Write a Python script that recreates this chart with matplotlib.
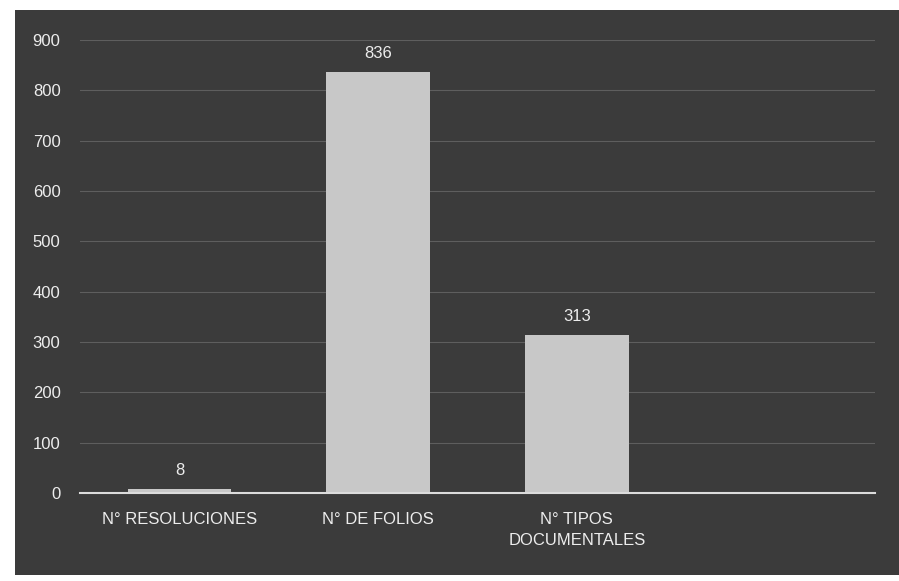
import matplotlib.pyplot as plt
from matplotlib.patches import Rectangle

# data
categories = ["N° RESOLUCIONES", "N° DE FOLIOS", "N° TIPOS\nDOCUMENTALES", ""]
values = [8, 836, 313, 0]
yticks = [0, 100, 200, 300, 400, 500, 600, 700, 800, 900]

bg = "#3b3b3b"
bar_color = "#c8c8c8"
text_color = "#ededed"

plt.rcParams['font.family'] = ['Liberation Sans', 'DejaVu Sans']

fig = plt.figure(figsize=(8.99, 5.81), dpi=100, facecolor="white")
# dark chart area inside the white paper margin
fig.patches.append(Rectangle((15 / 899, 0.01), 1, 1 - 10 / 581 - 0.01,
                             transform=fig.transFigure, facecolor=bg,
                             edgecolor="none", zorder=-10))

ax = fig.add_axes([80 / 899, 1 - 493 / 581, 795 / 899, 453 / 581])
ax.set_zorder(1)
ax.set_facecolor(bg)

x = range(len(categories))
bars = ax.bar(x, values, width=0.52, color=bar_color, zorder=3)

# value labels above the first three bars
for i in range(3):
    ax.annotate(str(values[i]), (i, values[i]), xytext=(0, 8),
                textcoords="offset points", ha="center", va="bottom",
                color=text_color, fontsize=12)

ax.set_xlim(-0.5, len(categories) - 0.5)
ax.set_ylim(0, 900)
ax.set_yticks(yticks)
ax.set_xticks(list(x))
ax.set_xticklabels(categories, color=text_color, fontsize=12,
                   linespacing=1.5)
ax.tick_params(axis="y", colors=text_color, labelsize=12, length=0, pad=14)
ax.tick_params(axis="x", length=0, pad=14)

ax.grid(axis="y", color="#5e5e5e", linewidth=0.8, zorder=1)
ax.set_axisbelow(True)
for side in ["top", "right", "left"]:
    ax.spines[side].set_visible(False)
ax.spines["bottom"].set_color("#dcdcdc")
ax.spines["bottom"].set_linewidth(1.5)
ax.spines["bottom"].set_zorder(4)

fig.savefig("out.png", dpi=100, facecolor=fig.get_facecolor())
